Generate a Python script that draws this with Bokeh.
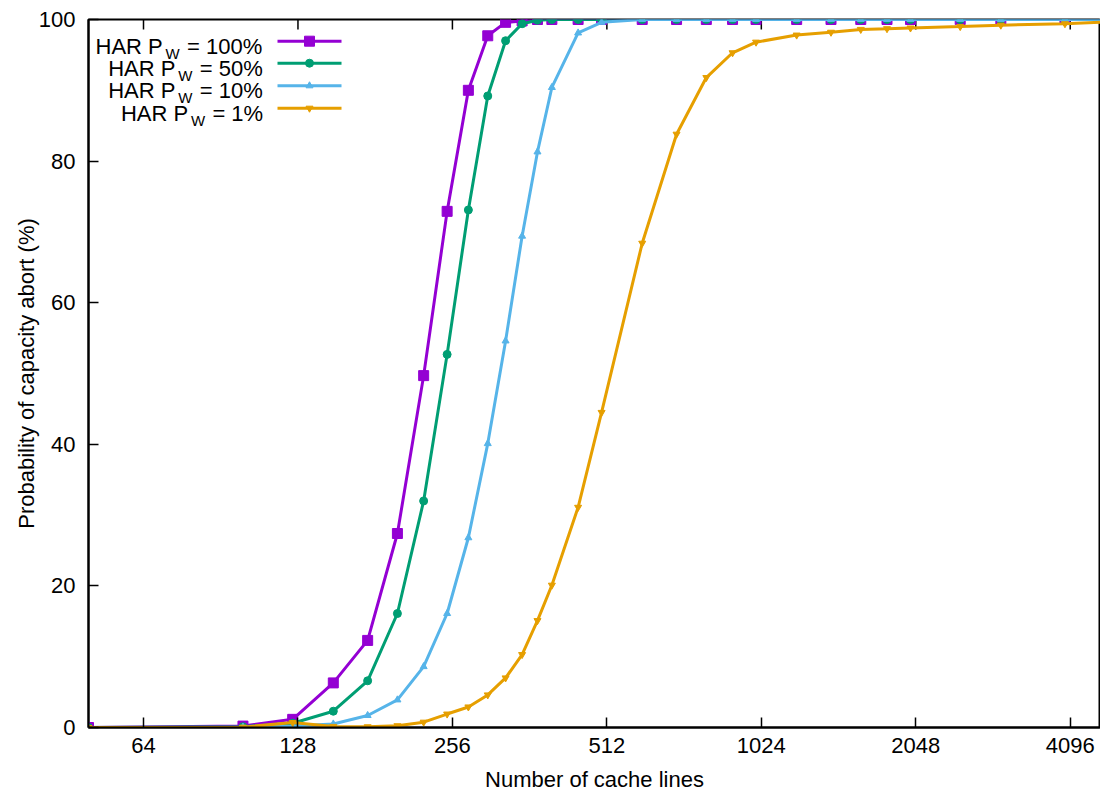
import math
from bokeh.plotting import figure
from bokeh.models import FixedTicker, PrintfTickFormatter
from bokeh.core.properties import value
from bokeh.embed import file_html
from bokeh.resources import INLINE

# ---------------- data ----------------
CACHE_LINES = [50, 100, 125, 150, 175, 200, 225, 250, 275, 300, 325, 350, 375, 400,
               450, 500, 600, 700, 800, 900, 1000, 1200, 1400, 1600, 1800, 2000,
               2500, 3000, 4000, 5000]

PW_100 = [0, 0.2, 1.15, 6.3, 12.3, 27.4, 49.7, 72.9, 90.0, 97.7, 99.6, 99.8, 100, 100,
          100, 100, 100, 100, 100, 100, 100, 100, 100, 100, 100, 100, 100, 100, 100, 100]
PW_50 = [0, 0.1, 0.6, 2.3, 6.6, 16.1, 32.0, 52.7, 73.1, 89.2, 97.0, 99.4, 99.9, 100,
         100, 100, 100, 100, 100, 100, 100, 100, 100, 100, 100, 100, 100, 100, 100, 100]
PW_10 = [0, 0.05, 0.2, 0.5, 1.7, 3.9, 8.6, 16.1, 26.8, 40.1, 54.6, 69.4, 81.3, 90.4,
         98.1, 99.6, 100, 100, 100, 100, 100, 100, 100, 100, 100, 100, 100, 100, 100, 100]
PW_1 = [0, 0.05, 0.7, 0.15, 0.1, 0.25, 0.75, 1.9, 2.9, 4.6, 7.0, 10.3, 15.1, 20.1,
        31.1, 44.5, 68.4, 83.8, 91.8, 95.3, 96.8, 97.8, 98.2, 98.6, 98.7, 98.8,
        99.0, 99.2, 99.4, 99.7]

SERIES_LABELS = ["100%", "50%", "10%", "1%"]
X_TICKS = [64, 128, 256, 512, 1024, 2048, 4096]
Y_TICKS = [0, 20, 40, 60, 80, 100]

# ---------------- layout ----------------
FONT = "Liberation Sans"
X_START, X_END = 50, 4692
FR_LEFT, FR_TOP, FR_W, FR_H = 88, 19, 1012, 708   # page pixels of the frame
PPO = FR_W / math.log2(X_END / X_START)


def px_x(px):
    return X_START * 2 ** ((px - FR_LEFT) / PPO)


def px_y(py):
    return 100 - (py - FR_TOP) * 100.0 / FR_H


p = figure(width=1100, height=794, x_axis_type="log",
           x_range=(X_START, X_END), y_range=(0, 100),
           output_backend="svg", toolbar_location=None,
           min_border_left=88, min_border_right=0,
           min_border_top=19, min_border_bottom=67)
p.xgrid.visible = False
p.ygrid.visible = False
p.outline_line_color = "black"
p.outline_line_width = 2
p.outline_line_alpha = 1
p.background_fill_color = "white"
p.border_fill_color = "white"

for ax in (p.xaxis[0], p.yaxis[0]):
    ax.major_tick_in = 10
    ax.major_tick_out = 0
    ax.minor_tick_in = 0
    ax.minor_tick_out = 0
    ax.major_tick_line_width = 1.5
    ax.major_tick_line_color = "black"
    ax.axis_line_color = "black"
    ax.axis_line_width = 2
    ax.major_label_text_font = FONT
    ax.major_label_text_font_size = "22px"
    ax.major_label_text_color = "black"
    ax.axis_label_text_font = FONT
    ax.axis_label_text_font_size = "22px"
    ax.axis_label_text_font_style = "normal"
    ax.axis_label_text_color = "black"

xa = p.xaxis[0]
xa.ticker = FixedTicker(ticks=X_TICKS, minor_ticks=[])
xa.formatter = PrintfTickFormatter(format="%d")
xa.axis_label = "Number of cache lines"
xa.major_label_standoff = 10
xa.axis_label_standoff = 11

ya = p.yaxis[0]
ya.ticker = FixedTicker(ticks=Y_TICKS, minor_ticks=[])
ya.axis_label = "Probability of capacity abort (%)"
ya.major_label_standoff = 13
ya.axis_label_standoff = -3

# mirrored ticks on the top border
tick_len = 10 * 100.0 / FR_H
p.segment(x0=X_TICKS, x1=X_TICKS, y0=[100] * len(X_TICKS),
          y1=[100 - tick_len] * len(X_TICKS), line_color="black", line_width=1.5)

COLORS = ["#9400D3", "#009E73", "#56B4E9", "#E69F00"]
MARKERS = ["square", "circle", "triangle", "inverted_triangle"]
SIZES = [10, 8, 7, 7]
DATA = [PW_100, PW_50, PW_10, PW_1]

for ys, c, m, s in zip(DATA, COLORS, MARKERS, SIZES):
    p.line(CACHE_LINES, ys, line_color=c, line_width=3)
    p.scatter(CACHE_LINES, ys, marker=m, size=s, fill_color=c, line_color=c)

# ---------------- key (manual, with subscript W) ----------------
ROW_Y = [40.7, 62.7, 85.3, 107.7]
ROW_X0 = [95.0, 107.7, 107.7, 120.4]
W_DX = 70.0
EQ_DX = 91.5
for i, (lab, c, m, s) in enumerate(zip(SERIES_LABELS, COLORS, MARKERS, SIZES)):
    ry = ROW_Y[i]
    x0 = ROW_X0[i]
    p.text(x=[px_x(x0)], y=[px_y(ry + 5)], text=["HAR P"],
           text_font=value(FONT), text_font_size="22px", text_color="black",
           text_align="left", text_baseline="alphabetic")
    p.text(x=[px_x(x0 + W_DX)], y=[px_y(ry + 12)], text=["W"],
           text_font=value(FONT), text_font_size="15px", text_color="black",
           text_align="left", text_baseline="alphabetic")
    p.text(x=[px_x(x0 + EQ_DX)], y=[px_y(ry + 5)], text=["= " + lab],
           text_font=value(FONT), text_font_size="22px", text_color="black",
           text_align="left", text_baseline="alphabetic")
    p.line([px_x(277), px_x(341)], [px_y(ry), px_y(ry)], line_color=c, line_width=3)
    p.scatter([px_x(309)], [px_y(ry)], marker=m, size=s, fill_color=c, line_color=c)

open("out.html", "w").write(file_html(p, INLINE))
